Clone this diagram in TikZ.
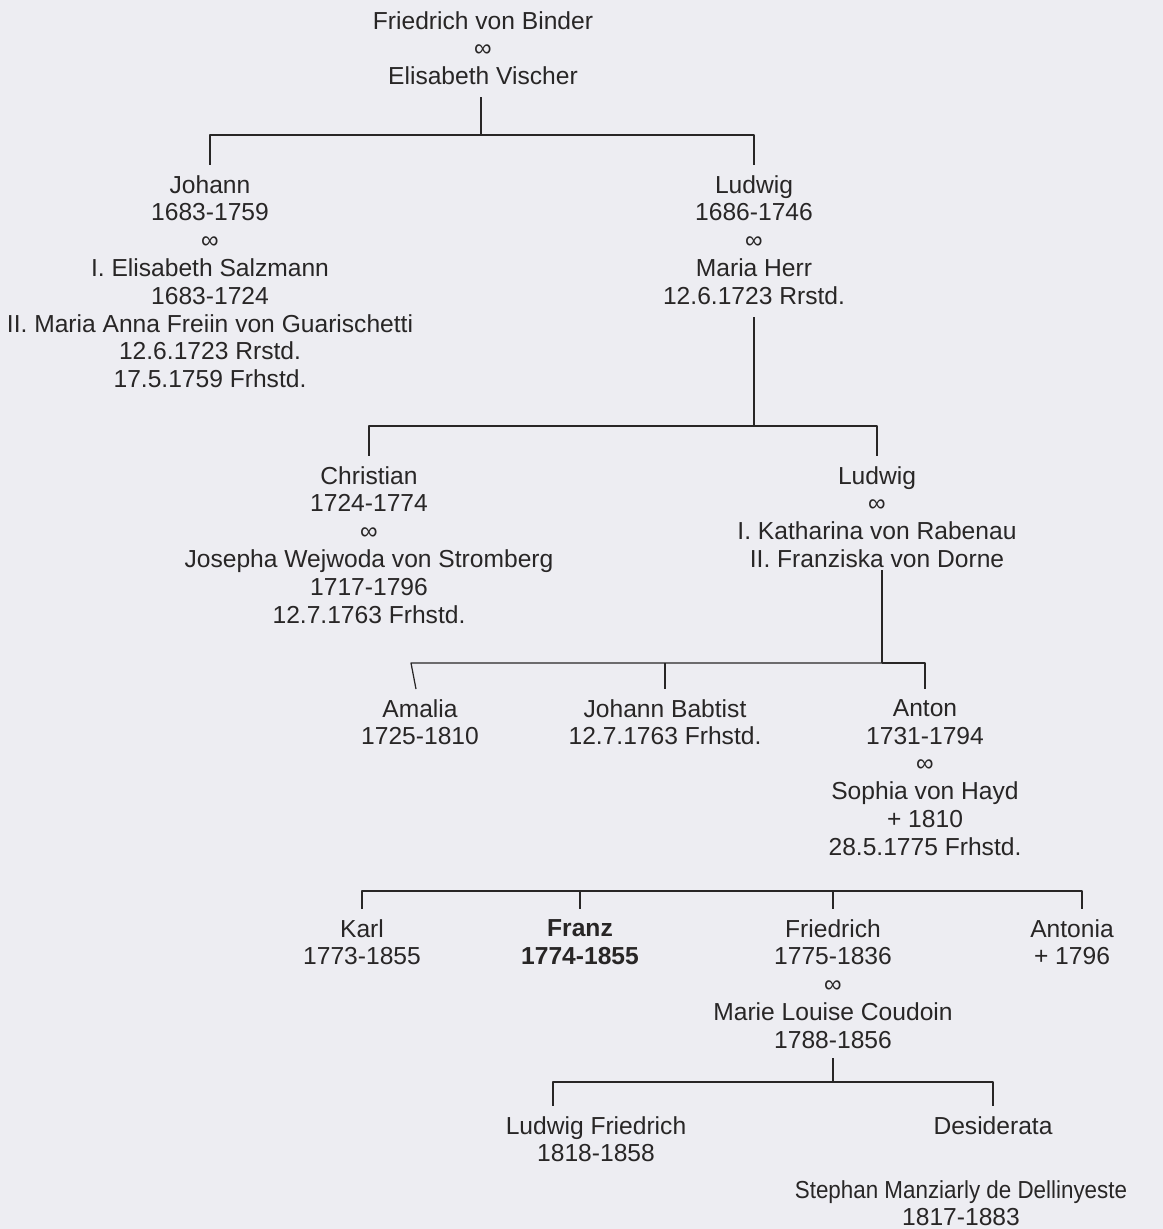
\documentclass[tikz,border=0pt]{standalone}
\usepackage{fontspec}
\setmainfont{Liberation Sans}
\usepackage{xcolor}
\usepackage{tikz}
\definecolor{paper}{RGB}{237,237,242}
\definecolor{ink}{RGB}{40,38,38}

\begin{document}
\begin{tikzpicture}[line join=round,
  person/.style={align=center, anchor=north, inner xsep=0pt, inner ysep=0.2cm, text=ink,
    font=\fontsize{14}{15.8}\selectfont},
  link/.style={draw=ink, line width=0.7pt}]
  \fill[paper] (0.000,0.000) rectangle (23.260,-24.580);
  \useasboundingbox (0.000,0.000) rectangle (23.260,-24.580);
  \node[person] (binder) at (9.660,-0.020) {Friedrich von Binder\\∞\\Elisabeth Vischer};
  \node[person] (johann) at (4.200,-3.300) {Johann\\1683-1759\\∞\\I. Elisabeth Salzmann\\1683-1724\\II. Maria Anna Freiin von Guarischetti\\12.6.1723 Rrstd.\\17.5.1759 Frhstd.};
  \node[person] (ludwigA) at (15.080,-3.300) {Ludwig\\1686-1746\\∞\\Maria Herr\\12.6.1723 Rrstd.};
  \node[person] (christian) at (7.380,-9.120) {Christian\\1724-1774\\∞\\Josepha Wejwoda von Stromberg\\1717-1796\\12.7.1763 Frhstd.};
  \node[person] (ludwigB) at (17.540,-9.120) {Ludwig\\∞\\I. Katharina von Rabenau\\II. Franziska von Dorne};
  \node[person] (amalia) at (8.400,-13.780) {Amalia\\1725-1810};
  \node[person] (johannB) at (13.300,-13.780) {Johann Babtist\\12.7.1763 Frhstd.};
  \node[person] (anton) at (18.500,-13.780) {Anton\\1731-1794\\∞\\Sophia von Hayd\\+ 1810\\28.5.1775 Frhstd.};
  \node[person] (karl) at (7.240,-18.180) {Karl\\1773-1855};
  \node[person,font=\fontsize{14}{15.8}\selectfont\bfseries] (franz) at (11.600,-18.180) {Franz\\1774-1855};
  \node[person] (friedrich) at (16.660,-18.180) {Friedrich\\1775-1836\\∞\\Marie Louise Coudoin\\1788-1856};
  \node[person] (antonia) at (21.440,-18.180) {Antonia\\+ 1796};
  \node[person] (ludwigF) at (11.920,-22.120) {Ludwig Friedrich\\1818-1858};
  \node[person] (desiderata) at (19.860,-22.120) {Desiderata};
  \node[person] (stephan) at (19.220,-23.400) {\scalebox{0.91}[1]{Stephan Manziarly de Dellinyeste}\\1817-1883};
  \coordinate (up0) at (9.620,-1.940);
  \coordinate (j0) at (9.620,-2.700);
  \coordinate (up1) at (15.080,-6.340);
  \coordinate (j1) at (15.080,-8.520);
  \coordinate (up2) at (17.640,-11.400);
  \coordinate (j2) at (17.640,-13.260);
  \coordinate (j2l) at (8.220,-13.260);
  \coordinate (j3r) at (21.640,-17.820);
  \coordinate (up4) at (16.660,-21.160);
  \coordinate (j4) at (16.660,-21.640);
  \coordinate (j4l) at (11.060,-21.640);
  \draw[link] (up0) -- (j0);
  \draw[link] (j0) -| (johann.north);
  \draw[link] (j0) -| (ludwigA.north);
  \draw[link] (up1) -- (j1);
  \draw[link] (j1) -| (christian.north);
  \draw[link] (j1) -| (ludwigB.north);
  \draw[link] (up2) -- (j2);
  \draw[link] (j2) -| (anton.north);
  \draw[link] (j2) -- (j2l) -- ([xshift=-0.080cm]amalia.north);
  \draw[link] (j2 -| johannB.north) -- (johannB.north);
  \draw[link] (karl.north) |- (j3r) -- (j3r |- antonia.north);
  \draw[link] (franz.north |- j3r) -- (franz.north);
  \draw[link] (friedrich.north |- j3r) -- (friedrich.north);
  \draw[link] (up4) -- (j4);
  \draw[link] (j4) -| (desiderata.north);
  \draw[link] (j4) -- (j4l) -- (j4l |- ludwigF.north);
\end{tikzpicture}
\end{document}
